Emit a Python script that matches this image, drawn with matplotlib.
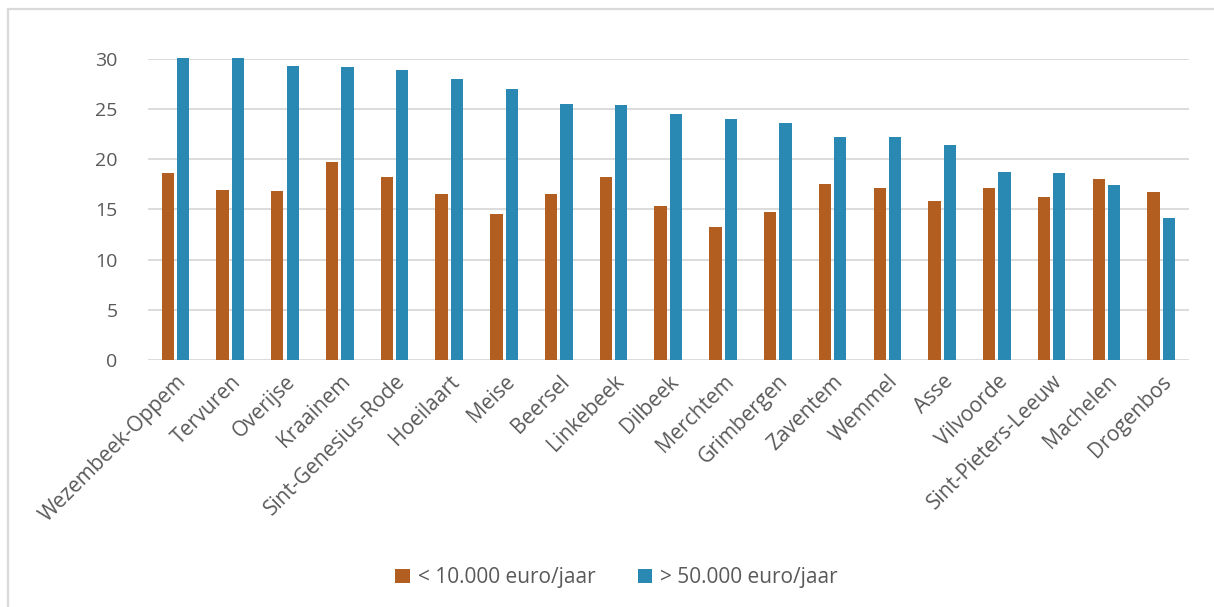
import matplotlib.pyplot as plt
import numpy as np
from matplotlib.patches import Rectangle

plt.rcParams['font.family'] = ['Open Sans', 'DejaVu Sans']

# gemeenten en aandelen (%)
gemeenten = ["Wezembeek-Oppem", "Tervuren", "Overijse", "Kraainem", "Sint-Genesius-Rode",
             "Hoeilaart", "Meise", "Beersel", "Linkebeek", "Dilbeek", "Merchtem",
             "Grimbergen", "Zaventem", "Wemmel", "Asse", "Vilvoorde",
             "Sint-Pieters-Leeuw", "Machelen", "Drogenbos"]
laag_inkomen = [18.6, 16.9, 16.8, 19.7, 18.2, 16.5, 14.5, 16.5, 18.2, 15.3, 13.2,
                14.7, 17.5, 17.1, 15.8, 17.1, 16.2, 18.0, 16.7]
hoog_inkomen = [30.1, 30.1, 29.3, 29.2, 28.9, 28.0, 27.0, 25.5, 25.4, 24.5, 24.0,
                23.6, 22.2, 22.2, 21.4, 18.7, 18.6, 17.4, 14.1]
yticks = [0, 5, 10, 15, 20, 25, 30]

oranje = '#B35E21'
blauw = '#2A89B3'
tekst = '#595959'

fig = plt.figure(figsize=(12.14, 6.07), dpi=100)
ax = fig.add_axes([0.122, 0.407, 0.857, 0.496])

x = np.arange(len(gemeenten))
w = 0.225
ax.bar(x - 0.14, laag_inkomen, w, color=oranje, label='< 10.000 euro/jaar',
       zorder=3, clip_on=False)
ax.bar(x + 0.14, hoog_inkomen, w, color=blauw, label='> 50.000 euro/jaar',
       zorder=3, clip_on=False)

ax.set_xlim(-0.5, len(gemeenten) - 0.5)
ax.set_ylim(0, 30)
ax.set_yticks(yticks)
ax.yaxis.grid(True, color='#d9d9d9', linewidth=1.3, zorder=0)
ax.set_axisbelow(True)
for s in ax.spines.values():
    s.set_visible(False)
ax.tick_params(axis='both', length=0, colors=tekst)
ax.tick_params(axis='y', pad=22, labelsize=14)
ax.set_xticks(x)
ax.set_xticklabels(gemeenten, rotation=45, ha='right', rotation_mode='anchor')
ax.tick_params(axis='x', pad=8, labelsize=15)

ax.legend(loc='center', bbox_to_anchor=(0.508, 0.048), bbox_transform=fig.transFigure,
          ncol=2, frameon=False, fontsize=15, labelcolor=tekst,
          handlelength=0.7, handleheight=0.7, handletextpad=0.4, columnspacing=2.0)

# kader: alleen links en boven zichtbaar
fig.patches.append(Rectangle((8 / 1214, -0.05), 1.2, 1 - 9 / 607 + 0.05,
                             transform=fig.transFigure, fill=False,
                             edgecolor='#d9d9d9', linewidth=1.6))

fig.savefig('out.png', dpi=100)
